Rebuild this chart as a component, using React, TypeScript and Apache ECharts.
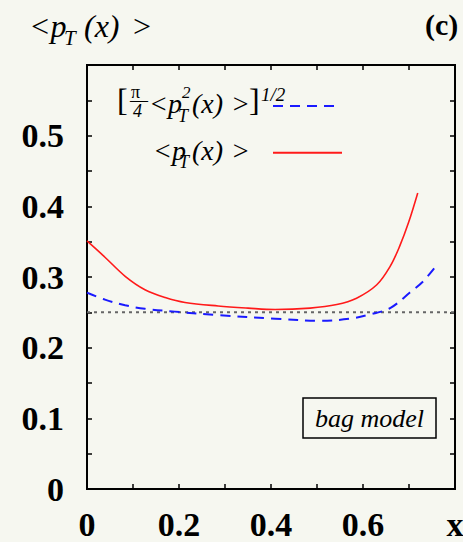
import React, { useEffect, useRef } from "react";
import * as echarts from "echarts";

// <p_T(x)> (solid red)
const xRed = [0, 0.039, 0.083, 0.126, 0.17, 0.213, 0.285, 0.35, 0.409, 0.485, 0.543, 0.586, 0.63, 0.659, 0.68, 0.699, 0.719];
const yRed = [0.351, 0.328, 0.301, 0.282, 0.271, 0.264, 0.259, 0.256, 0.254, 0.256, 0.261, 0.27, 0.289, 0.315, 0.344, 0.377, 0.419];
// [pi/4 <p_T^2(x)>]^(1/2) (dashed blue)
const xBlue = [0, 0.039, 0.083, 0.126, 0.191, 0.285, 0.409, 0.507, 0.572, 0.615, 0.659, 0.702, 0.731, 0.758];
const yBlue = [0.278, 0.268, 0.26, 0.255, 0.251, 0.246, 0.241, 0.238, 0.241, 0.247, 0.256, 0.278, 0.294, 0.315];
// reference level (dotted)
const refX = [0, 0.8];
const refLevel = 0.25;

const xTickLabels = ["0", "", "0.2", "", "0.4", "", "0.6", "", "x"];
const yTickLabels = ["0", "", "0.1", "", "0.2", "", "0.3", "", "0.4", "", "0.5", "", ""];

const SERIF = "Liberation Serif";

function it(x: number, y: number, text: string, size: number) {
  return { type: "text", x, y, style: { text, fontFamily: SERIF, fontStyle: "italic", fontSize: size } };
}
function up(x: number, y: number, text: string, size: number, bold = false) {
  const style: any = { text, fontFamily: SERIF, fontSize: size };
  if (bold) style.fontWeight = "bold";
  return { type: "text", x, y, style };
}

export default function App() {
  const ref = useRef<HTMLDivElement>(null);
  useEffect(() => {
    if (!ref.current) return;
    const chart = echarts.init(ref.current, null, { renderer: "svg" });
    const mkLine = () => ({ show: true, onZero: false, lineStyle: { color: "#000", width: 2 } });
    const mkTick = () => ({ show: true, inside: true, length: 5, lineStyle: { color: "#000", width: 1.5 } });
    const labelFont = { color: "#000", fontFamily: SERIF, fontWeight: "bold", fontSize: 34 };
    chart.setOption({
      animation: false,
      backgroundColor: "#f6f7f0",
      grid: { left: 87, top: 65, width: 368, height: 424, outerBoundsMode: "none", show: true, borderColor: "#000", borderWidth: 2 },
      title: [
        {
          text: "bag model", left: 303, top: 398, padding: [7, 12, 7, 12],
          borderColor: "#000", borderWidth: 1.5,
          textStyle: { fontFamily: SERIF, fontStyle: "italic", fontWeight: 400, fontSize: 26, color: "#000" },
        },
      ],
      legend: [
        {
          data: ["blueCurve"], left: 272, top: 99, padding: 0, itemWidth: 66, itemHeight: 14,
          selectedMode: false, formatter: () => "", textStyle: { fontSize: 1 },
          itemStyle: { opacity: 0, color: "transparent", borderWidth: 0 },
        },
        {
          data: ["redCurve"], left: 272, top: 145.7, padding: 0, itemWidth: 69, itemHeight: 14,
          selectedMode: false, formatter: () => "", textStyle: { fontSize: 1 },
          itemStyle: { opacity: 0, color: "transparent", borderWidth: 0 },
        },
      ],
      xAxis: [
        {
          type: "value", min: 0, max: 0.8, interval: 0.1, position: "bottom",
          axisLine: mkLine(), axisTick: mkTick(), splitLine: { show: false },
          axisLabel: { ...labelFont, margin: 18, formatter: (v: number) => xTickLabels[Math.round(v * 10)] ?? "" },
        },
        {
          type: "value", min: 0, max: 0.8, interval: 0.1, position: "top",
          axisLine: mkLine(), axisTick: mkTick(), splitLine: { show: false }, axisLabel: { show: false },
        },
      ],
      yAxis: [
        {
          type: "value", min: 0, max: 0.6, interval: 0.05, position: "left",
          axisLine: mkLine(), axisTick: mkTick(), splitLine: { show: false },
          axisLabel: { ...labelFont, margin: 23, formatter: (v: number) => yTickLabels[Math.round(v * 20)] ?? "" },
        },
        {
          type: "value", min: 0, max: 0.6, interval: 0.05, position: "right",
          axisLine: mkLine(), axisTick: mkTick(), splitLine: { show: false }, axisLabel: { show: false },
        },
      ],
      series: [
        {
          name: "reference", type: "line", xAxisIndex: 0, yAxisIndex: 0, symbol: "none",
          data: refX.map((x) => [x, refLevel]),
          lineStyle: { color: "#666", width: 2, type: [3, 4] },
        },
        {
          name: "blueCurve", type: "line", xAxisIndex: 0, yAxisIndex: 0, symbol: "none", smooth: 0.35,
          color: "#1a1aff",
          data: xBlue.map((x, i) => [x, yBlue[i]]),
          lineStyle: { color: "#1a1aff", width: 2, type: [10, 7] },
        },
        {
          name: "redCurve", type: "line", xAxisIndex: 0, yAxisIndex: 0, symbol: "none", smooth: 0.35,
          color: "#ff1a1a",
          data: xRed.map((x, i) => [x, yRed[i]]),
          lineStyle: { color: "#ff1a1a", width: 1.6 },
        },
      ],
      graphic: [
        it(29, 10, "<p", 32),
        it(64, 27.5, "T", 21),
        it(84, 10, "(x)", 32),
        it(131, 10, ">", 32),
        up(425, 9, "(c)", 30, true),
        up(117, 84, "[", 32),
        up(131, 83, "π", 18),
        up(130, 91, "—", 18),
        it(133, 102, "4", 18),
        it(149, 89.5, "<p", 28),
        it(182, 83.5, "2", 17),
        it(178, 107, "T", 18),
        it(192, 89.5, "(x)", 28),
        it(231, 89.5, ">", 28),
        up(249, 84, "]", 32),
        it(261, 84.5, "1/2", 19),
        it(153, 136.5, "<p", 28),
        it(179, 153, "T", 18),
        it(192, 136.5, "(x)", 28),
        it(231, 136.5, ">", 28),
      ],
    });
    return () => chart.dispose();
  }, []);
  return (
    <div style={{ position: "fixed", left: 0, top: 0, width: 463, height: 542 }}>
      <div ref={ref} style={{ width: 463, height: 542 }} />
    </div>
  );
}
